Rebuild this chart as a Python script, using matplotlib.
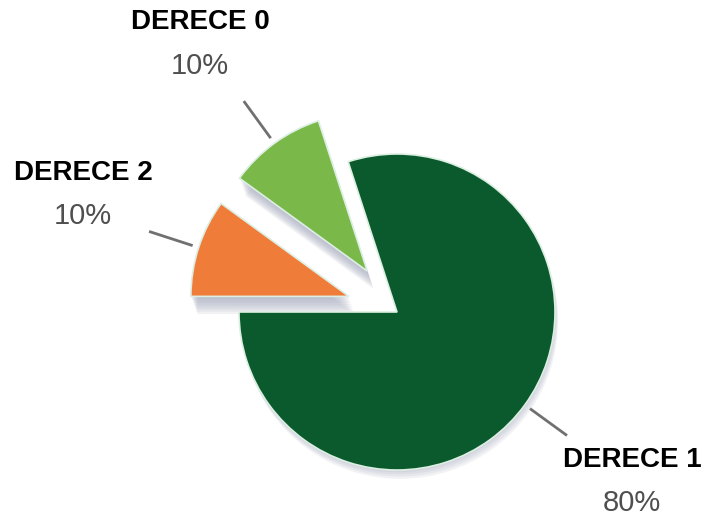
"""Exploded pie chart of DERECE shares."""

import numpy as np
import matplotlib.pyplot as plt
from matplotlib.patches import Wedge

labels = ['DERECE 1', 'DERECE 0', 'DERECE 2']
values = [80, 10, 10]
pct_labels = ['80%', '10%', '10%']
colors = ['#0b5a2e', '#7bb84a', '#f07c3a']
explode = [0.0, 0.32, 0.32]

# label text positions (data units), one per slice
label_xy = [(1.487, -0.937), (-1.247, 1.835), (-1.987, 0.880)]
pct_gap = 0.275

fig = plt.figure(figsize=(7.02, 5.24), dpi=100)
ax = fig.add_axes([0, 0, 1, 1])

wedges, _ = ax.pie(values, colors=colors, explode=explode, startangle=180,
                   counterclock=True, radius=1.0,
                   wedgeprops=dict(edgecolor='#dcefe2', linewidth=1.2, zorder=3))

# soft grey shadows under each slice
for i, w in enumerate(wedges):
    cx, cy = w.center
    n = 4 if i == 0 else 8
    for k in range(n):
        off = 0.014 * (k + 1)
        sh = Wedge((cx + off * 0.35, cy - off), w.r, w.theta1, w.theta2,
                   facecolor='#a3a8bc', edgecolor='none', alpha=0.14, zorder=2)
        ax.add_patch(sh)

# leader lines and labels
for w, lab, pct, (tx, ty) in zip(wedges, labels, pct_labels, label_xy):
    mid = np.deg2rad((w.theta1 + w.theta2) / 2)
    cx, cy = w.center
    ax.plot([cx + 1.04 * np.cos(mid), cx + 1.33 * np.cos(mid)],
            [cy + 1.04 * np.sin(mid), cy + 1.33 * np.sin(mid)],
            color='#707070', lw=2, solid_capstyle='butt', zorder=1)
    ax.text(tx, ty, lab, ha='center', va='center', fontsize=20, fontweight='bold',
            family='Liberation Sans', color='black')
    ax.text(tx, ty - pct_gap, pct, ha='center', va='center', fontsize=21,
            family='Liberation Sans', color='#4f4f4f')

ax.set_aspect('auto')
ax.set_xlim(-397 / 158, 305 / 158)
ax.set_ylim(-212 / 158, 312 / 158)
ax.axis('off')

fig.savefig('out.png', dpi=100, facecolor='white')
